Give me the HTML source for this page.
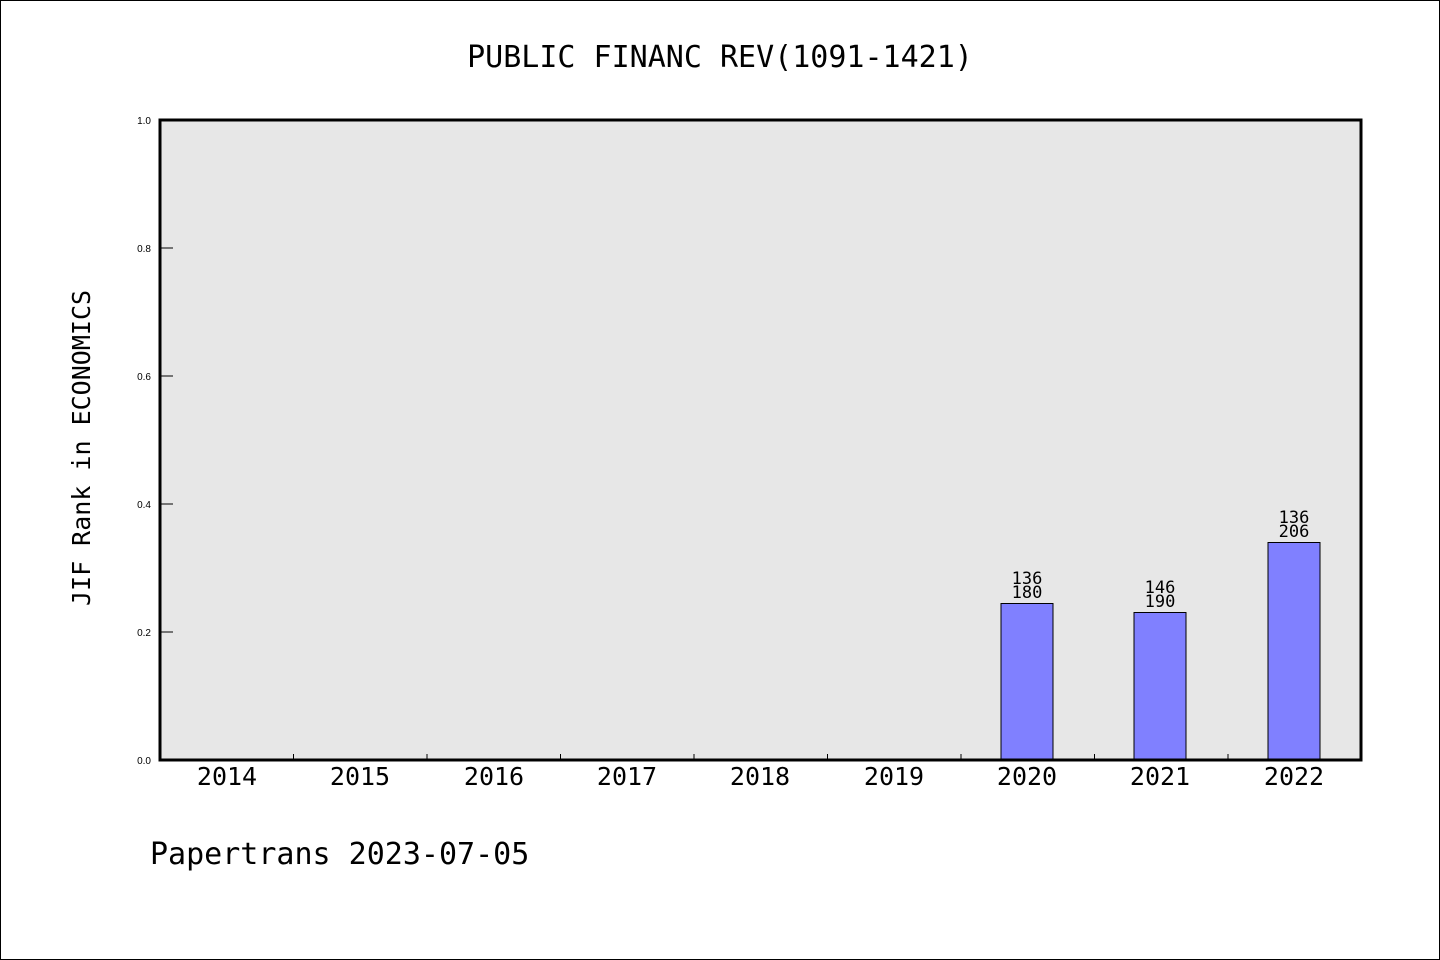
<!DOCTYPE html>
<html><head><meta charset="utf-8"><style>
html,body{margin:0;padding:0;background:#fff;}
svg{display:block;}
</style></head><body>
<svg width="1440" height="960" xmlns="http://www.w3.org/2000/svg">
<rect x="0.5" y="0.5" width="1439" height="959" fill="#fff" stroke="#000" stroke-width="1"/>
<text x="720" y="67" font-size="30" text-anchor="middle" font-family="DejaVu Sans Mono, monospace">PUBLIC FINANC REV(1091-1421)</text>
<rect x="160" y="120" width="1201" height="640" fill="#e7e7e7"/>
<g stroke="#000" stroke-width="1">
<line x1="160" y1="248" x2="173" y2="248"/>
<line x1="160" y1="376" x2="173" y2="376"/>
<line x1="160" y1="504" x2="173" y2="504"/>
<line x1="160" y1="632" x2="173" y2="632"/>
<line x1="293.5" y1="754" x2="293.5" y2="760"/>
<line x1="427" y1="754" x2="427" y2="760"/>
<line x1="560.5" y1="754" x2="560.5" y2="760"/>
<line x1="694" y1="754" x2="694" y2="760"/>
<line x1="827.5" y1="754" x2="827.5" y2="760"/>
<line x1="961" y1="754" x2="961" y2="760"/>
<line x1="1094.5" y1="754" x2="1094.5" y2="760"/>
<line x1="1228" y1="754" x2="1228" y2="760"/>
</g>
<g fill="#8080ff" stroke="#000" stroke-width="1">
<rect x="1001" y="603.5" width="52" height="157"/>
<rect x="1134" y="612.5" width="52" height="148"/>
<rect x="1268" y="542.5" width="52" height="218"/>
</g>
<rect x="160" y="120" width="1201" height="640" fill="none" stroke="#000" stroke-width="3"/>
<g font-size="10" text-anchor="end" font-family="Liberation Sans, sans-serif">
<text x="151" y="124">1.0</text><text x="151" y="252">0.8</text><text x="151" y="380">0.6</text>
<text x="151" y="508">0.4</text><text x="151" y="636">0.2</text><text x="151" y="764">0.0</text>
</g>
<g font-size="25" text-anchor="middle" font-family="DejaVu Sans Mono, monospace">
<text x="227" y="785">2014</text><text x="360" y="785">2015</text><text x="494" y="785">2016</text>
<text x="627" y="785">2017</text><text x="760" y="785">2018</text><text x="894" y="785">2019</text>
<text x="1027" y="785">2020</text><text x="1160" y="785">2021</text><text x="1294" y="785">2022</text>
</g>
<g font-size="17" text-anchor="middle" font-family="DejaVu Sans Mono, monospace">
<text x="1027" y="584">136</text><text x="1027" y="598">180</text>
<text x="1160" y="593">146</text><text x="1160" y="607">190</text>
<text x="1294" y="523">136</text><text x="1294" y="537">206</text>
</g>
<text transform="translate(90,448) rotate(-90)" font-size="25" text-anchor="middle" font-family="DejaVu Sans Mono, monospace">JIF Rank in ECONOMICS</text>
<text x="150" y="864" font-size="30" font-family="DejaVu Sans Mono, monospace">Papertrans 2023-07-05</text>
</svg>
</body></html>
